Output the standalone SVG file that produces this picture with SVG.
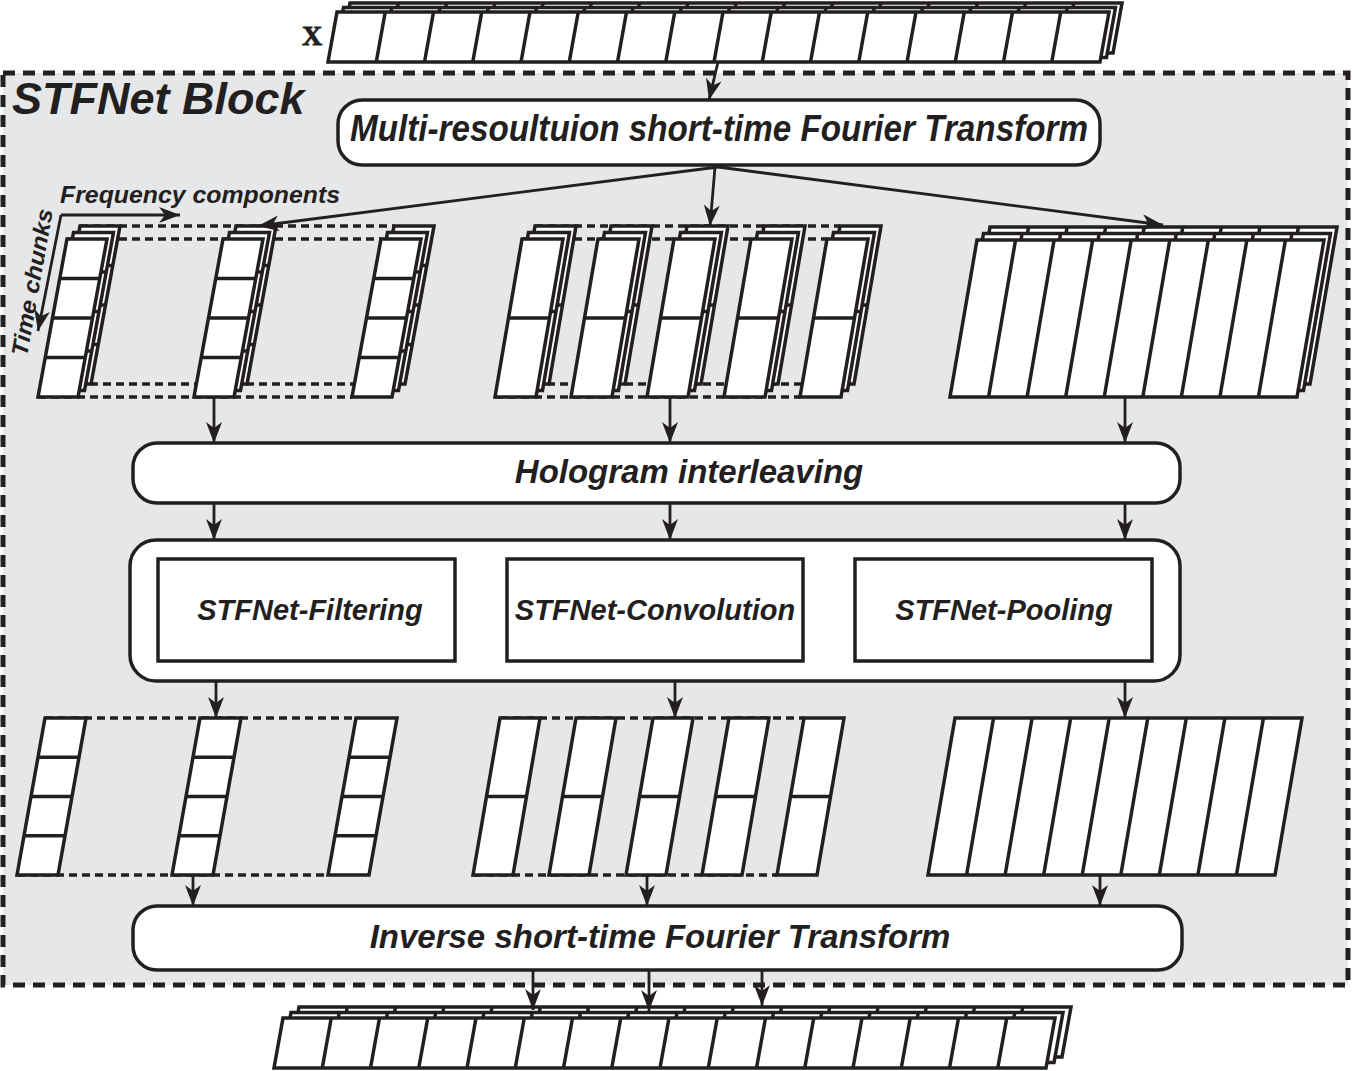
<svg xmlns="http://www.w3.org/2000/svg" xmlns:xlink="http://www.w3.org/1999/xlink" width="1353" height="1071" viewBox="0 0 1353 1071">
<defs>
<style>
.sh{fill:#fff;stroke:#231f20;stroke-width:3.5;stroke-linejoin:miter}
.dv{fill:none;stroke:#231f20;stroke-width:3.5}
.dash{fill:none;stroke:#231f20;stroke-width:3.5;stroke-dasharray:8 5}
.box{fill:#fff;stroke:#231f20;stroke-width:3.5}
.conn path{fill:none;stroke:#231f20;stroke-width:2.8;marker-end:url(#ah)}
.lbl{font-family:"Liberation Sans",Arial,sans-serif;font-weight:bold;font-style:italic;fill:#231f20}
</style>
<marker id="ah" markerUnits="userSpaceOnUse" markerWidth="21" markerHeight="16" refX="21" refY="8" orient="auto">
<path d="M0,0 L21,8 L0,16 L6,8 z" fill="#231f20"/>
</marker>
<g id="colTL"><polygon class="sh" points="0,0 40,0 69,-158 29,-158"/><path class="dv" d="M7.25,-39.5H47.25M14.5,-79H54.5M21.75,-118.5H61.75"/></g>
<g id="colTM"><polygon class="sh" points="0,0 41,0 68,-158 27,-158"/><path class="dv" d="M13.5,-79H54.5"/></g>
<g id="wide"><polygon class="sh" points="0,0 347,0 374,-157 27,-157"/><path class="dv" d="M38.56,0L65.56,-157M77.11,0L104.11,-157M115.67,0L142.67,-157M154.22,0L181.22,-157M192.78,0L219.78,-157M231.33,0L258.33,-157M269.89,0L296.89,-157M308.44,0L335.44,-157"/></g>
<g id="colBL"><polygon class="sh" points="0,0 41,0 69,-157 28,-157"/><path class="dv" d="M7,-39.25H48M14,-78.5H55M21,-117.75H62"/></g>
<g id="colBM"><polygon class="sh" points="0,0 40,0 67,-157 27,-157"/><path class="dv" d="M13.5,-78.5H53.5"/></g>
<g id="tensor"><polygon class="sh" points="0,0 772,0 781,-50 9,-50"/><path class="dv" d="M48.25,0l9,-50M96.5,0l9,-50M144.75,0l9,-50M193,0l9,-50M241.25,0l9,-50M289.5,0l9,-50M337.75,0l9,-50M386,0l9,-50M434.25,0l9,-50M482.5,0l9,-50M530.75,0l9,-50M579,0l9,-50M627.25,0l9,-50M675.5,0l9,-50M723.75,0l9,-50"/></g>
</defs>

<rect width="1353" height="1071" fill="#fff"/>

<g id="block">
<rect x="3" y="73" width="1345" height="912" fill="#e6e7e8" stroke="#231f20" stroke-width="5" stroke-dasharray="12 8"/>
<text class="lbl" x="12" y="114" font-size="45">STFNet Block</text>
</g>

<g id="x-input">
<text x="312" y="45" font-family="'Liberation Serif','Times New Roman',serif" font-weight="900" font-size="28" text-anchor="middle" fill="#231f20" stroke="#231f20" stroke-width="0.8">X</text>
<use xlink:href="#tensor" x="341" y="53"/>
<use xlink:href="#tensor" x="334.5" y="57.5"/>
<use xlink:href="#tensor" x="328" y="62"/>
</g>

<g id="stft">
<rect class="box" x="338" y="100" width="762" height="65" rx="24"/>
<text class="lbl" x="719" y="141" font-size="37" text-anchor="middle" textLength="738" lengthAdjust="spacingAndGlyphs">Multi-resoultuion short-time Fourier Transform</text>
</g>

<g id="axes">
<text class="lbl" x="60" y="203" font-size="23.5" textLength="280" lengthAdjust="spacingAndGlyphs">Frequency components</text>
<text class="lbl" font-size="23" transform="translate(27,357) rotate(-80)" textLength="149" lengthAdjust="spacingAndGlyphs">Time chunks</text>
</g>

<g id="spec-fine">
<path class="dash" d="M80,226H394M67,239H381M51,384H365M38,397H352"/>
<use xlink:href="#colTL" x="51" y="384"/><use xlink:href="#colTL" x="44.5" y="390.5"/><use xlink:href="#colTL" x="38" y="397"/>
<use xlink:href="#colTL" x="207" y="384"/><use xlink:href="#colTL" x="200.5" y="390.5"/><use xlink:href="#colTL" x="194" y="397"/>
<use xlink:href="#colTL" x="365" y="384"/><use xlink:href="#colTL" x="358.5" y="390.5"/><use xlink:href="#colTL" x="352" y="397"/>
</g>

<g id="spec-mid">
<path class="dash" d="M535,226H840M522,239H827M508,384H813M495,397H800"/>
<use xlink:href="#colTM" x="508" y="384"/><use xlink:href="#colTM" x="501.5" y="390.5"/><use xlink:href="#colTM" x="495" y="397"/>
<use xlink:href="#colTM" x="584" y="384"/><use xlink:href="#colTM" x="577.5" y="390.5"/><use xlink:href="#colTM" x="571" y="397"/>
<use xlink:href="#colTM" x="660" y="384"/><use xlink:href="#colTM" x="653.5" y="390.5"/><use xlink:href="#colTM" x="647" y="397"/>
<use xlink:href="#colTM" x="737" y="384"/><use xlink:href="#colTM" x="730.5" y="390.5"/><use xlink:href="#colTM" x="724" y="397"/>
<use xlink:href="#colTM" x="813" y="384"/><use xlink:href="#colTM" x="806.5" y="390.5"/><use xlink:href="#colTM" x="800" y="397"/>
</g>

<g id="spec-coarse">
<use xlink:href="#wide" x="963" y="384"/><use xlink:href="#wide" x="956.5" y="390.5"/><use xlink:href="#wide" x="950" y="397"/>
</g>

<g id="hologram">
<rect class="box" x="133" y="443" width="1047" height="60" rx="24"/>
<text class="lbl" x="689" y="483" font-size="33" text-anchor="middle">Hologram interleaving</text>
</g>

<g id="stfnet-layers">
<rect class="box" x="130" y="540" width="1050" height="141" rx="26"/>
<g id="filtering"><rect class="box" x="158" y="559" width="297" height="102"/><text class="lbl" x="310" y="620" font-size="29" text-anchor="middle">STFNet-Filtering</text></g>
<g id="convolution"><rect class="box" x="507" y="559" width="296" height="102"/><text class="lbl" x="655" y="620" font-size="29" text-anchor="middle">STFNet-Convolution</text></g>
<g id="pooling"><rect class="box" x="855" y="559" width="297" height="102"/><text class="lbl" x="1004" y="620" font-size="29" text-anchor="middle">STFNet-Pooling</text></g>
</g>

<g id="out-fine">
<path class="dash" d="M45,718H356M17,875H328"/>
<use xlink:href="#colBL" x="17" y="875"/><use xlink:href="#colBL" x="172" y="875"/><use xlink:href="#colBL" x="328" y="875"/>
</g>

<g id="out-mid">
<path class="dash" d="M500,718H804M473,875H777"/>
<use xlink:href="#colBM" x="473" y="875"/><use xlink:href="#colBM" x="549" y="875"/><use xlink:href="#colBM" x="626" y="875"/><use xlink:href="#colBM" x="702" y="875"/><use xlink:href="#colBM" x="777" y="875"/>
</g>

<g id="out-coarse">
<use xlink:href="#wide" x="928" y="875"/>
</g>

<g id="istft">
<rect class="box" x="133" y="906" width="1049" height="64" rx="24"/>
<text class="lbl" x="660" y="948" font-size="33" text-anchor="middle">Inverse short-time Fourier Transform</text>
</g>

<g id="output">
<use xlink:href="#tensor" x="290" y="1057"/>
<use xlink:href="#tensor" x="282" y="1062.5"/>
<use xlink:href="#tensor" x="274" y="1068"/>
</g>

<g id="connectors" class="conn">
<path d="M718,62 L709,100"/>
<path d="M718,167 L258,226"/>
<path d="M715,167 L710,226"/>
<path d="M718,167 L1163,225"/>
<path d="M61,215 L180,215"/>
<path d="M61,215 L38,331"/>
<path d="M214,397 V443"/><path d="M670,397 V443"/><path d="M1125,397 V443"/>
<path d="M214,503 V540"/><path d="M670,503 V540"/><path d="M1125,503 V540"/>
<path d="M216,681 V718"/><path d="M675,681 V718"/><path d="M1125,681 V718"/>
<path d="M193,875 V906"/><path d="M647,875 V906"/><path d="M1100,875 V906"/>
<path d="M533,970 V1010"/><path d="M649,970 V1011"/><path d="M762,970 V1006"/>
</g>
</svg>
